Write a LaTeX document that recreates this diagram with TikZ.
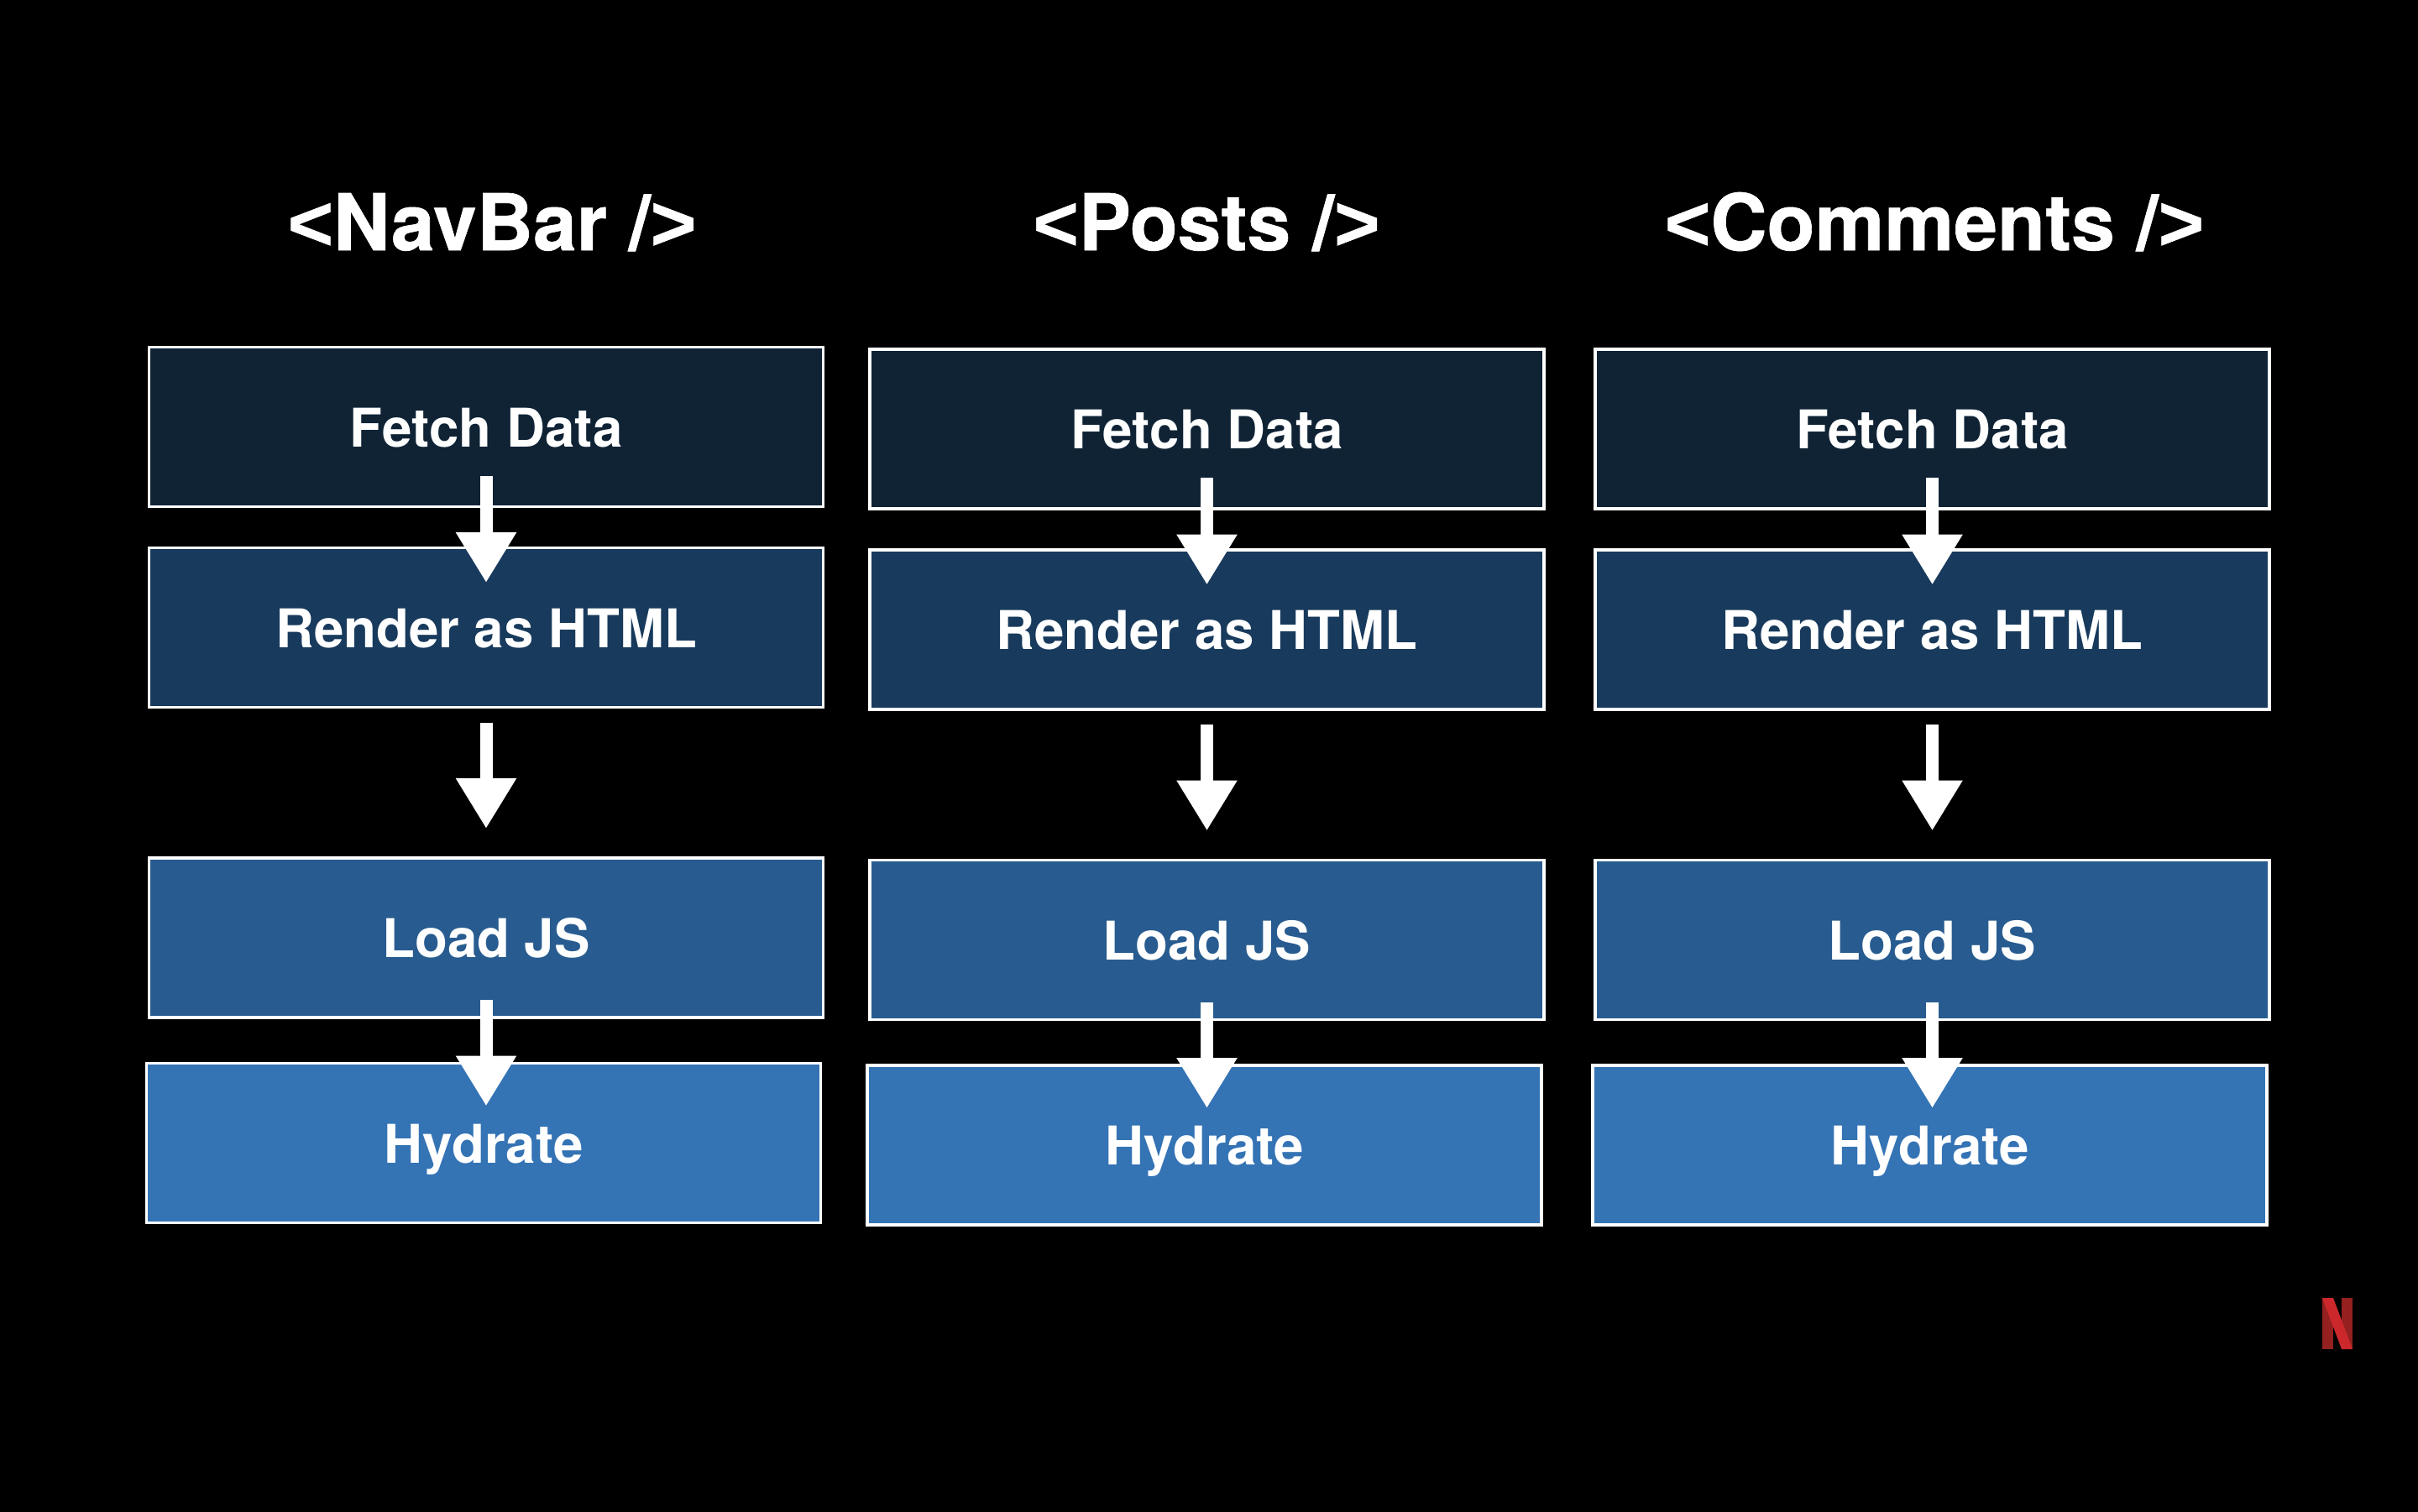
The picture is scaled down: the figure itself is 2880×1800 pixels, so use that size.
\documentclass[tikz,border=0pt]{standalone}
\usepackage{fontspec}
\setmainfont{TeX Gyre Heros}
\newfontfamily\titlefont[BoldFont={TeX Gyre Heros Bold},BoldFeatures={FakeBold=0.7}]{TeX Gyre Heros}
\newfontfamily\bracketfont[BoldFont={Liberation Sans Bold},BoldFeatures={FakeBold=0.7}]{Liberation Sans}
\newcommand{\opentag}{{\bracketfont\bfseries<}}
\newcommand{\closetag}{{\bracketfont\bfseries>}}
\usetikzlibrary{arrows.meta}
\definecolor{fetchc}{HTML}{0F2335}
\definecolor{renderc}{HTML}{183A5C}
\definecolor{loadc}{HTML}{285C90}
\definecolor{hydc}{HTML}{3473B4}
\definecolor{nred}{HTML}{94211F}
\definecolor{nbright}{HTML}{CC282C}
\tikzset{
  stagebox/.style={draw=white,line width=1.6pt,text=white,minimum width=401.5pt,
    minimum height=95pt,inner sep=0pt,outer sep=0pt,text height=23.5pt,text depth=0pt,
    font=\fontsize{31.8}{36}\selectfont\bfseries},
  titletext/.style={text=white,anchor=base,inner sep=0pt,font=\titlefont\fontsize{46.6}{52}\selectfont\bfseries},
  flow/.style={draw=white,line width=7.5pt,-{Triangle[length=30pt,width=34pt]}}
}
\begin{document}
\begin{tikzpicture}[x=0.5pt,y=-0.5pt]
\useasboundingbox (0,0) rectangle (2880,1800);
\fill[black] (-20,-20) rectangle (2900,1820);
\node[titletext] (t1) at (586,298) {\opentag NavBar /\closetag};
\node[titletext] (t2) at (1437,298) {\opentag Posts /\closetag};
\node[titletext] (t3) at (2304,298) {\opentag Comments /\closetag};
\foreach \n/\cx/\dy in {1/579/0,2/1437.5/2.5,3/2301.5/2.5}{
  \node[stagebox,fill=fetchc]  (a\n) at (\cx,508.5+\dy) {Fetch Data};
  \node[stagebox,fill=renderc] (b\n) at (\cx,747.5+\dy) {Render as HTML};
  \node[stagebox,fill=loadc]   (c\n) at (\cx,1117+\dy) {Load JS};
  \node[stagebox,fill=hydc]    (d\n) at (\cx-3,1361.5+\dy) {Hydrate};
  \draw[flow] ([yshift=18.5pt]a\n.south) -- ([yshift=-20.8pt]b\n.north);
  \draw[flow] ([yshift=-9pt]b\n.south) -- ([yshift=17.5pt]c\n.north);
  \draw[flow] ([yshift=10.5pt]c\n.south) -- ([xshift=1.5pt,yshift=-25.5pt]d\n.north);
}
% Netflix mark
\fill[nred] (2766,1546) rectangle (2779,1607);
\fill[nred] (2789,1546) rectangle (2802,1607);
\fill[nbright] (2766,1546) -- (2779,1546) -- (2802,1607) -- (2789,1607) -- cycle;
\end{tikzpicture}
\end{document}
